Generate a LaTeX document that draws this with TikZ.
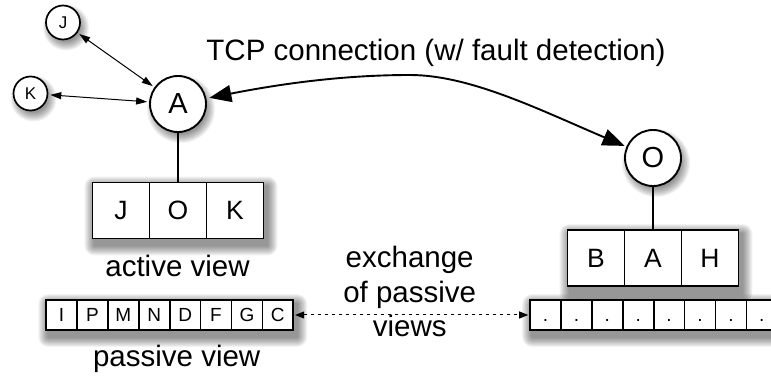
\documentclass[tikz,border=0pt]{standalone}
\usepackage{fontspec}
\setmainfont{Liberation Sans}
\usetikzlibrary{arrows.meta}
\pgfdeclarelayer{shadow}
\pgfsetlayers{shadow,main}

\tikzset{
  peer/.style={circle, draw, line width=1.9pt, fill=white, minimum size=56pt,
    inner sep=0pt, font=\fontsize{29}{29}\selectfont},
  smallpeer/.style={circle, draw, line width=1.7pt, fill=white, minimum size=34pt,
    inner sep=0pt, font=\fontsize{17}{17}\selectfont},
  activecell/.style={draw, line width=1.9pt, fill=white, minimum width=57pt,
    minimum height=56pt, inner sep=0pt, font=\fontsize{26.5}{26.5}\selectfont,
    text height=19pt, text depth=0pt},
  passivecell/.style={draw, line width=1.7pt, fill=white, minimum width=30.9pt,
    minimum height=30pt, inner sep=0pt, font=\fontsize{19}{19}\selectfont,
    text height=13.7pt, text depth=0pt},
  bigtext/.style={inner sep=0pt, font=\fontsize{29.5}{34.7}\selectfont},
  tcplink/.style={line width=1.9pt, {Triangle[length=22pt,width=17pt]}-{Triangle[length=22pt,width=17pt]},
    shorten <=3pt, shorten >=2pt},
  peerlink/.style={line width=1pt, {Triangle[length=11pt,width=7pt]}-{Triangle[length=11pt,width=7pt]},
    shorten <=2pt, shorten >=2pt},
  viewlink/.style={line width=1.7pt},
  swaplink/.style={line width=1pt, dash pattern=on 3pt off 4pt,
    {Triangle[length=9pt,width=7pt]}-{Triangle[length=9pt,width=7pt]}, shorten <=1pt, shorten >=1pt},
  shade/.style={black, opacity=0.05},
}

\newcommand\boxshadow[2]{%
  \foreach \k in {1,...,10}{
    \fill[shade, rounded corners=\k pt]
      ([shift={(3-\k,5-\k)}]#1.north west) rectangle ([shift={(3+\k,6+\k)}]#2.south east);
  }}
\newcommand\ringshadow[2]{%
  \foreach \k in {1,...,10}{
    \fill[shade] ([shift={(3,5)}]#1.center) circle[radius={#2+\k-4}];
  }}

\begin{document}
\begin{tikzpicture}[x=1pt, y=-1pt]
  \useasboundingbox (0,0) rectangle (771,379);

  % peers
  \node[smallpeer] (J) at (63,22.5) {J};
  \node[smallpeer] (K) at (30.5,93.5) {K};
  \node[peer] (A) at (178,104) {A};
  \node[peer] (O) at (653,158) {O};

  % active views
  \node[activecell] (ja) at (121,210.5) {J};
  \node[activecell] (jb) at (178,210.5) {O};
  \node[activecell] (jc) at (235,210.5) {K};
  \node[activecell] (ba) at (596,258) {B};
  \node[activecell] (bb) at (653,258) {A};
  \node[activecell] (bc) at (710,258) {H};

  % passive views
  \foreach \t [count=\i] in {I,P,M,N,D,F,G,C}
    \node[passivecell] (pl\i) at ({169.7+(\i-4.5)*30.9},315) {\t};
  \foreach \i in {1,...,8}
    \node[passivecell] (pr\i) at ({545.5+(\i-1)*30.9},315) {.};

  % captions
  \node[bigtext, anchor=base] (tcp) at (436,60.7) {TCP connection (w/ fault detection)};
  \node[bigtext, anchor=base] (act) at (177.5,276.7) {active view};
  \node[bigtext, anchor=base] (pas) at (176.7,366.5) {passive view};
  \node[bigtext, anchor=base, align=center] (exch) at (409.7,336.7) {exchange\\of passive\\views};

  % connectors
  \coordinate (peak) at (410,75);
  \draw[tcplink] (A) .. controls (290,82) and (350,75) .. (peak)
                     .. controls (470,75) and (540,110) .. (O);
  \draw[peerlink] (J) -- (A);
  \draw[peerlink] (K) -- (A);
  \draw[viewlink] (A) -- (jb);
  \draw[viewlink] (O) -- (bb);
  \draw[swaplink] (pl8) -- (pr1);

  % soft drop shadows
  \begin{pgfonlayer}{shadow}
    \boxshadow{ja}{jc}
    \boxshadow{ba}{bc}
    \boxshadow{pl1}{pl8}
    \boxshadow{pr1}{pr8}
    \ringshadow{A}{28}
    \ringshadow{O}{28}
    \ringshadow{J}{17}
    \ringshadow{K}{17}
  \end{pgfonlayer}
\end{tikzpicture}
\end{document}
